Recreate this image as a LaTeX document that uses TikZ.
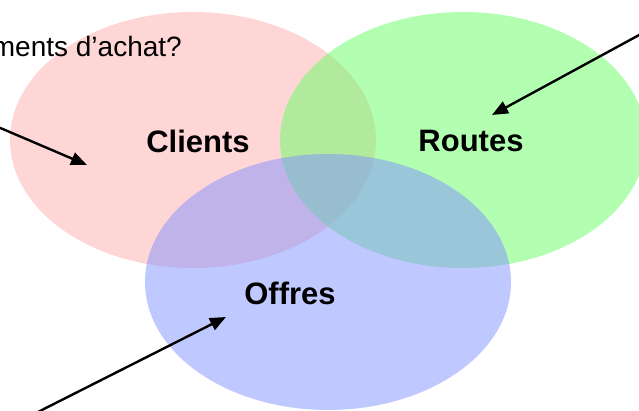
\documentclass[tikz,border=0pt]{standalone}
\usepackage{fontspec}
\setmainfont{Liberation Sans}
\usetikzlibrary{arrows.meta,shapes.geometric}
\definecolor{setred}{RGB}{255,153,153}
\definecolor{setgreen}{RGB}{102,255,102}
\definecolor{setblue}{RGB}{128,145,255}
\tikzset{
  setshape/.style={ellipse, draw=none, inner sep=0pt,
    minimum width=366pt, minimum height=256pt},
  setlabel/.style={font=\fontsize{31}{31}\selectfont\bfseries, inner sep=0pt},
  pointer/.style={line width=2.4pt, -{Triangle[length=16pt,width=13pt]}}
}
\begin{document}
\begin{tikzpicture}[x=1pt,y=1pt]
  \useasboundingbox (0,0) rectangle (639,411);
  % the three sets
  \node[setshape, fill=setred, fill opacity=0.4] (clients) at (193,271) {};
  \node[setshape, fill=setgreen, fill opacity=0.5] (routes) at (463,271) {};
  \node[setshape, fill=setblue, fill opacity=0.5] (offres) at (328,129) {};
  % set names
  \node[setlabel] (lclients) at (198,270) {Clients};
  \node[setlabel] (lroutes) at (471,270) {Routes};
  \node[setlabel] (loffres) at (290,118) {Offres};
  % question text, cut at the left edge
  \node[anchor=base east, inner sep=0pt, font=\fontsize{28}{28}\selectfont] (question) at (182,354) {ments d’achat?};
  % pointers
  \coordinate (p1) at (-2,284);
  \coordinate (t1) at (87,246);
  \coordinate (p2) at (641,377);
  \coordinate (t2) at (492,296);
  \coordinate (p3) at (38,-1);
  \coordinate (t3) at (226,94);
  \draw[pointer] (p1) -- (t1);
  \draw[pointer] (p2) -- (t2);
  \draw[pointer] (p3) -- (t3);
\end{tikzpicture}
\end{document}
